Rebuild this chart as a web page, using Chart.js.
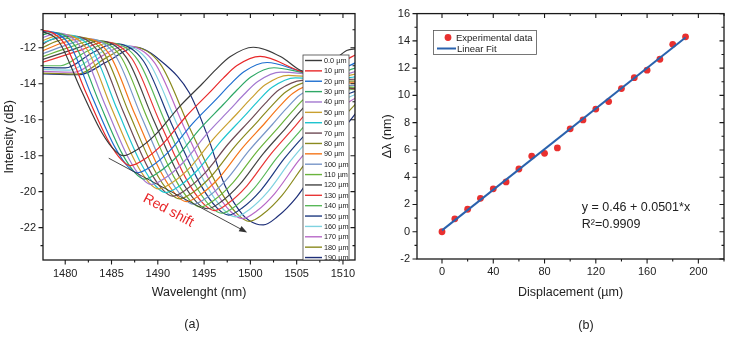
<!DOCTYPE html>
<html>
<head>
<meta charset="utf-8">
<script src="https://cdn.jsdelivr.net/npm/chart.js@4.4.1/dist/chart.umd.min.js"></script>
<style>
  body { margin: 0; background: #fff; }
  #wrap { position: relative; width: 733px; height: 340px; }
  canvas { position: absolute; top: 0; }
  #chartA { left: 0; }
  #chartB { left: 366px; }
</style>
</head>
<body>
<div id="wrap">
  <canvas id="chartA" width="366" height="340"></canvas>
  <canvas id="chartB" width="367" height="340"></canvas>
</div>
<script>
// ---- panel (a): transmission spectra, [wavelength nm, intensity dB] ----
const displacementLabels = ['0.0 µm', '10 µm', '20 µm', '30 µm', '40 µm', '50 µm', '60 µm', '70 µm', '80 µm', '90 µm',
    '100 µm', '110 µm', '120 µm', '130 µm', '140 µm', '150 µm', '160 µm', '170 µm', '180 µm', '190 µm'];

const spec0 = [[1477.0,-10.98],[1479.33,-11.68],[1481.65,-14.28],[1483.98,-16.74],[1485.37,-17.72],[1486.3,-18.0],[1487.8,-17.65],[1489.8,-16.8],[1492.3,-15.3],[1494.8,-14.0],[1496.3,-13.2],[1497.8,-12.5],[1500.3,-11.97],[1503.3,-12.5],[1505.4,-13.25],[1506.8,-13.4],[1508.8,-12.8],[1510.4,-12.15],[1511.5,-12.05]];
const spec10 = [[1476.8,-11.12],[1477.55,-11.03],[1479.93,-11.78],[1482.3,-14.56],[1484.68,-17.2],[1486.1,-18.25],[1487.05,-18.55],[1488.55,-18.2],[1490.55,-17.34],[1493.05,-15.82],[1495.55,-14.51],[1497.05,-13.7],[1498.55,-12.99],[1501.05,-12.48],[1505.4,-13.3],[1507.2,-13.5],[1509.5,-12.9],[1511.5,-12.35]];
const spec20 = [[1477.0,-11.18],[1478.1,-11.09],[1480.53,-11.88],[1482.95,-14.78],[1485.38,-17.54],[1486.83,-18.64],[1487.8,-18.95],[1489.3,-18.59],[1491.3,-17.72],[1493.8,-16.19],[1496.3,-14.87],[1497.8,-14.05],[1499.3,-13.33],[1501.8,-12.82],[1505.4,-13.3],[1507.5,-13.55],[1509.8,-13.2],[1511.5,-12.8]];
const spec30 = [[1477.0,-11.38],[1478.7,-11.14],[1481.16,-11.96],[1483.63,-14.98],[1486.09,-17.83],[1487.57,-18.97],[1488.55,-19.3],[1490.05,-18.94],[1492.05,-18.06],[1494.55,-16.51],[1497.05,-15.17],[1498.55,-14.35],[1500.05,-13.62],[1502.55,-13.11],[1505.4,-13.35],[1508.0,-13.6],[1511.5,-13.1]];
const spec40 = [[1477.0,-11.55],[1479.25,-11.19],[1481.76,-12.03],[1484.28,-15.14],[1486.79,-18.09],[1488.3,-19.26],[1489.3,-19.6],[1490.8,-19.24],[1492.8,-18.35],[1495.3,-16.79],[1497.8,-15.43],[1499.3,-14.6],[1500.8,-13.87],[1503.3,-13.35],[1505.4,-13.42],[1508.5,-13.65],[1511.5,-13.3]];
const spec50 = [[1477.0,-11.72],[1479.8,-11.25],[1482.38,-12.11],[1484.95,-15.29],[1487.53,-18.3],[1489.07,-19.51],[1490.1,-19.85],[1491.6,-19.48],[1493.6,-18.59],[1496.1,-17.01],[1498.6,-15.64],[1500.1,-14.8],[1501.6,-14.06],[1504.1,-13.53],[1508.5,-13.7],[1511.5,-13.45]];
const spec60 = [[1477.0,-11.85],[1478.85,-11.48],[1480.35,-11.3],[1482.98,-12.18],[1485.6,-15.41],[1488.23,-18.48],[1489.8,-19.7],[1490.85,-20.05],[1492.35,-19.68],[1494.35,-18.77],[1496.85,-17.18],[1499.35,-15.8],[1500.85,-14.95],[1502.35,-14.2],[1504.85,-13.67],[1509.0,-13.75],[1511.5,-13.6]];
const spec70 = [[1477.0,-12.0],[1478.4,-11.57],[1480.9,-11.35],[1483.58,-12.24],[1486.25,-15.53],[1488.93,-18.65],[1490.53,-19.89],[1491.6,-20.25],[1493.1,-19.87],[1495.1,-18.96],[1497.6,-17.35],[1500.1,-15.95],[1501.6,-15.09],[1503.1,-14.34],[1505.6,-13.81],[1511.5,-13.75]];
const spec80 = [[1477.0,-12.15],[1478.95,-11.66],[1481.45,-11.4],[1484.18,-12.3],[1486.9,-15.63],[1489.63,-18.78],[1491.26,-20.04],[1492.35,-20.4],[1493.85,-20.02],[1495.85,-19.1],[1498.35,-17.47],[1500.85,-16.06],[1502.35,-15.2],[1503.85,-14.44],[1506.35,-13.9],[1511.5,-13.85]];
const spec90 = [[1477.0,-12.3],[1479.5,-11.76],[1482.0,-11.46],[1484.78,-12.37],[1487.55,-15.73],[1490.33,-18.91],[1491.99,-20.19],[1493.1,-20.55],[1494.6,-20.17],[1496.6,-19.24],[1499.1,-17.59],[1501.6,-16.17],[1503.1,-15.29],[1504.6,-14.53],[1507.1,-13.98],[1511.5,-13.95]];
const spec100 = [[1477.0,-12.45],[1480.1,-11.85],[1482.6,-11.51],[1485.41,-12.43],[1488.23,-15.83],[1491.04,-19.05],[1492.73,-20.33],[1493.85,-20.7],[1495.35,-20.31],[1497.35,-19.37],[1499.85,-17.72],[1502.35,-16.28],[1503.85,-15.4],[1505.35,-14.62],[1507.85,-14.07],[1511.5,-14.1]];
const spec110 = [[1477.0,-12.6],[1480.65,-11.94],[1483.15,-11.57],[1486.01,-12.5],[1488.88,-15.93],[1491.74,-19.18],[1493.46,-20.48],[1494.6,-20.85],[1496.1,-20.46],[1498.1,-19.51],[1500.6,-17.84],[1503.1,-16.39],[1504.6,-15.49],[1506.1,-14.71],[1508.6,-14.15],[1511.5,-14.2]];
const spec120 = [[1477.0,-12.75],[1481.2,-12.03],[1483.7,-11.62],[1486.61,-12.55],[1489.53,-16.0],[1492.44,-19.27],[1494.19,-20.58],[1495.35,-20.95],[1496.85,-20.56],[1498.85,-19.6],[1501.35,-17.91],[1503.85,-16.45],[1505.35,-15.55],[1506.85,-14.76],[1509.35,-14.19],[1511.5,-14.25]];
const spec130 = [[1477.0,-12.9],[1481.75,-12.12],[1484.25,-11.67],[1487.21,-12.61],[1490.18,-16.08],[1493.14,-19.36],[1494.92,-20.67],[1496.1,-21.05],[1497.6,-20.65],[1499.6,-19.69],[1502.1,-17.98],[1504.6,-16.5],[1506.1,-15.59],[1507.6,-14.8],[1510.1,-14.23],[1511.5,-14.3]];
const spec140 = [[1477.0,-13.0],[1479.5,-13.0],[1482.3,-12.21],[1484.8,-11.72],[1487.83,-12.67],[1490.85,-16.18],[1493.88,-19.49],[1495.69,-20.82],[1496.9,-21.2],[1498.4,-20.8],[1500.4,-19.82],[1502.9,-18.1],[1505.4,-16.61],[1506.9,-15.69],[1508.4,-14.89],[1510.9,-14.32],[1511.6,-14.35]];
const spec150 = [[1477.0,-13.1],[1480.0,-13.12],[1482.85,-12.3],[1485.35,-11.77],[1488.43,-12.72],[1491.5,-16.25],[1494.58,-19.58],[1496.42,-20.92],[1497.65,-21.3],[1499.15,-20.89],[1501.15,-19.91],[1503.65,-18.17],[1506.15,-16.67],[1507.65,-15.74],[1509.15,-14.93],[1511.65,-14.35]];
const spec160 = [[1477.0,-13.2],[1480.5,-13.24],[1483.4,-12.4],[1485.9,-11.83],[1489.03,-12.79],[1492.15,-16.33],[1495.28,-19.68],[1497.15,-21.02],[1498.4,-21.4],[1499.9,-20.99],[1501.9,-20.0],[1504.4,-18.25],[1506.9,-16.73],[1508.4,-15.79],[1509.9,-14.98],[1512.4,-14.39]];
const spec170 = [[1477.0,-13.3],[1481.0,-13.36],[1484.0,-12.45],[1486.5,-11.88],[1489.66,-12.84],[1492.83,-16.4],[1495.99,-19.77],[1497.89,-21.12],[1499.15,-21.5],[1500.65,-21.09],[1502.65,-20.09],[1505.15,-18.32],[1507.65,-16.78],[1509.15,-15.84],[1510.65,-15.02],[1513.15,-14.43]];
const spec180 = [[1477.0,-13.4],[1481.3,-13.46],[1484.55,-12.52],[1487.05,-11.93],[1490.26,-12.9],[1493.48,-16.5],[1496.69,-19.9],[1498.62,-21.26],[1499.9,-21.65],[1501.4,-21.23],[1503.4,-20.22],[1505.9,-18.44],[1508.4,-16.89],[1509.9,-15.94],[1511.4,-15.11]];
const spec190 = [[1477.0,-13.45],[1481.5,-13.5],[1484.6,-12.75],[1487.6,-11.98],[1490.86,-12.96],[1493.4,-14.5],[1495.3,-16.8],[1497.2,-19.6],[1499.2,-21.3],[1500.65,-21.8],[1501.4,-21.85],[1502.9,-21.4],[1505.0,-20.3],[1507.0,-18.8],[1509.2,-17.1],[1511.6,-15.5]];

const spectra = [spec0, spec10, spec20, spec30, spec40, spec50, spec60, spec70, spec80, spec90,
    spec100, spec110, spec120, spec130, spec140, spec150, spec160, spec170, spec180, spec190];

const lineColors = ['#3b3b3b', '#e8282a', '#1e6fd0', '#2ea866', '#a378d0', '#c9a030', '#1fc4cf', '#6e4a55', '#8a8a1e', '#f5761a',
    '#7896c8', '#6ab43c', '#454545', '#e83535', '#58b858', '#1e3a80', '#7fd2e0', '#b869c8', '#8a8a1e', '#1e2f78'];

const wavelengthTicks = [1480, 1485, 1490, 1495, 1500, 1505, 1510];
const intensityTicks = [-22, -20, -18, -16, -14, -12];

// arrow of the red shift, in data units
const shiftArrowFrom = [1484.7, -18.14];
const shiftArrowTo = [1499.65, -22.27];
const shiftTextAt = [1491.15, -21.05];

// ---- panel (b): dip shift vs displacement ----
const displacement = [0, 10, 20, 30, 40, 50, 60, 70, 80, 90, 100, 110, 120, 130, 140, 150, 160, 170, 180, 190];
const wavelengthShift = [0, 0.95, 1.65, 2.45, 3.15, 3.65, 4.6, 5.55, 5.75, 6.15, 7.55, 8.2, 9.0, 9.55, 10.5, 11.3, 11.85, 12.65, 13.75, 14.3];
const fitX = [0, 190];
const fitY = [0.1, 14.25];

const displacementTicks = [0, 40, 80, 120, 160, 200];
const shiftTicks = [-2, 0, 2, 4, 6, 8, 10, 12, 14, 16];

const FONT = "'Liberation Sans', Arial, sans-serif";
const INK = '#1a1a1a';

function isMajor(v, major) {
    const r = v / major;
    return Math.abs(r - Math.round(r)) < 1e-6;
}

// box round the plot with ticks on all four sides (out on bottom/left, in on top/right)
function drawFrame(chart, o) {
    const {ctx, chartArea: a} = chart;
    const xs = chart.scales.x, ys = chart.scales.y;
    ctx.save();
    ctx.strokeStyle = INK;
    ctx.lineWidth = 1.1;
    ctx.beginPath();
    const x0 = Math.ceil(xs.min / o.xMinor - 1e-9);
    for (let i = x0; i * o.xMinor <= xs.max + 1e-9; i++) {
        const v = i * o.xMinor;
        const px = xs.getPixelForValue(v);
        const len = isMajor(v, o.xMajor) ? 4.5 : 2.5;
        ctx.moveTo(px, a.bottom); ctx.lineTo(px, a.bottom + len);
        ctx.moveTo(px, a.top); ctx.lineTo(px, a.top + len);
    }
    const y0 = Math.ceil(ys.min / o.yMinor - 1e-9);
    for (let i = y0; i * o.yMinor <= ys.max + 1e-9; i++) {
        const v = i * o.yMinor;
        const py = ys.getPixelForValue(v);
        const len = isMajor(v, o.yMajor) ? 4.5 : 2.5;
        ctx.moveTo(a.left, py); ctx.lineTo(a.left - len, py);
        ctx.moveTo(a.right, py); ctx.lineTo(a.right - len, py);
    }
    ctx.stroke();
    ctx.lineWidth = 1.3;
    ctx.strokeRect(a.left, a.top, a.right - a.left, a.bottom - a.top);
    ctx.restore();
}

function drawText(ctx, text, x, y, font, color, angle, align) {
    ctx.save();
    ctx.translate(x, y);
    if (angle) ctx.rotate(angle);
    ctx.font = font;
    ctx.fillStyle = color;
    ctx.textAlign = align || 'center';
    ctx.textBaseline = 'middle';
    ctx.fillText(text, 0, 0);
    ctx.restore();
}

const panelA = {
    id: 'panelA',
    afterDatasetsDraw(chart) {
        const {ctx, chartArea: a} = chart;
        const xs = chart.scales.x, ys = chart.scales.y;
        drawFrame(chart, {xMajor: 5, xMinor: 2.5, yMajor: 2, yMinor: 1});

        // red shift arrow
        const x1 = xs.getPixelForValue(shiftArrowFrom[0]), y1 = ys.getPixelForValue(shiftArrowFrom[1]);
        const x2 = xs.getPixelForValue(shiftArrowTo[0]), y2 = ys.getPixelForValue(shiftArrowTo[1]);
        const ang = Math.atan2(y2 - y1, x2 - x1);
        ctx.save();
        ctx.strokeStyle = '#333';
        ctx.fillStyle = '#333';
        ctx.lineWidth = 0.9;
        ctx.beginPath();
        ctx.moveTo(x1, y1);
        ctx.lineTo(x2 - 6 * Math.cos(ang), y2 - 6 * Math.sin(ang));
        ctx.stroke();
        ctx.beginPath();
        ctx.moveTo(x2, y2);
        ctx.lineTo(x2 - 8 * Math.cos(ang) + 3 * Math.sin(ang), y2 - 8 * Math.sin(ang) - 3 * Math.cos(ang));
        ctx.lineTo(x2 - 8 * Math.cos(ang) - 3 * Math.sin(ang), y2 - 8 * Math.sin(ang) + 3 * Math.cos(ang));
        ctx.closePath();
        ctx.fill();
        ctx.restore();
        drawText(ctx, 'Red shift', xs.getPixelForValue(shiftTextAt[0]), ys.getPixelForValue(shiftTextAt[1]),
            '14px ' + FONT, '#e8282a', ang);

        // legend box
        const lx = 303, ly = 55, lw = 46, lh = a.bottom - ly;
        ctx.save();
        ctx.fillStyle = '#fff';
        ctx.fillRect(lx, ly, lw, lh);
        ctx.strokeStyle = '#444';
        ctx.lineWidth = 0.8;
        ctx.strokeRect(lx, ly, lw, lh);
        chart.data.datasets.forEach((ds, i) => {
            const ry = 60.5 + i * 10.37;
            ctx.strokeStyle = ds.borderColor;
            ctx.lineWidth = 1.4;
            ctx.beginPath();
            ctx.moveTo(lx + 2, ry);
            ctx.lineTo(lx + 19, ry);
            ctx.stroke();
            drawText(ctx, ds.label, lx + 21, ry + 0.5, '7.3px ' + FONT, '#222', 0, 'left');
        });
        ctx.restore();

        // axis titles and panel tag
        const cx = (a.left + a.right) / 2;
        drawText(ctx, 'Intensity (dB)', 10, (a.top + a.bottom) / 2, '12.5px ' + FONT, '#222', -Math.PI / 2);
        drawText(ctx, 'Wavelenght (nm)', cx, 293, '12.5px ' + FONT, '#222');
        drawText(ctx, '(a)', 192, 325, '12.5px ' + FONT, '#222');
    }
};

const panelB = {
    id: 'panelB',
    afterDatasetsDraw(chart) {
        const {ctx, chartArea: a} = chart;
        const xs = chart.scales.x, ys = chart.scales.y;
        drawFrame(chart, {xMajor: 40, xMinor: 20, yMajor: 2, yMinor: 1});

        // legend
        ctx.save();
        ctx.strokeStyle = '#555';
        ctx.lineWidth = 0.8;
        ctx.strokeRect(67.5, 30.5, 103, 24);
        ctx.fillStyle = '#e8302f';
        ctx.beginPath();
        ctx.arc(82, 37.5, 3.4, 0, Math.PI * 2);
        ctx.fill();
        ctx.strokeStyle = '#2a62ad';
        ctx.lineWidth = 2;
        ctx.beginPath();
        ctx.moveTo(71, 48.5);
        ctx.lineTo(90, 48.5);
        ctx.stroke();
        ctx.restore();
        drawText(ctx, 'Experimental data', 90, 38, '9.5px ' + FONT, '#222', 0, 'left');
        drawText(ctx, 'Linear Fit', 91, 49, '9.5px ' + FONT, '#222', 0, 'left');

        // fit annotation
        const tx = xs.getPixelForValue(109);
        drawText(ctx, 'y = 0.46 + 0.0501*x', tx, ys.getPixelForValue(1.8), '12.5px ' + FONT, '#222', 0, 'left');
        drawText(ctx, 'R²=0.9909', tx, ys.getPixelForValue(0.55), '12.5px ' + FONT, '#222', 0, 'left');

        const cx = (a.left + a.right) / 2;
        drawText(ctx, 'Δλ (nm)', 22, (a.top + a.bottom) / 2, '12.5px ' + FONT, '#222', -Math.PI / 2);
        drawText(ctx, 'Displacement (µm)', cx, 293, '12.5px ' + FONT, '#222');
        drawText(ctx, '(b)', 220, 326, '12.5px ' + FONT, '#222');
    }
};

function axis(min, max, tickValues, pad, fitSize, horizontal) {
    return {
        type: 'linear',
        min: min,
        max: max,
        grid: {display: false, drawTicks: false},
        border: {display: false},
        afterBuildTicks: s => { s.ticks = tickValues.map(v => ({value: v})); },
        ticks: {
            autoSkip: false,
            maxRotation: 0,
            padding: pad,
            color: '#222',
            font: {family: FONT, size: 11},
            callback: v => String(v)
        },
        afterFit: s => { if (horizontal) s.height = fitSize; else s.width = fitSize; }
    };
}

new Chart(document.getElementById('chartA'), {
    type: 'line',
    data: {
        datasets: spectra.map((pts, i) => ({
            label: displacementLabels[i],
            data: pts.map(p => ({x: p[0], y: p[1]})),
            borderColor: lineColors[i],
            borderWidth: 1.2,
            pointRadius: 0,
            fill: false,
            cubicInterpolationMode: 'monotone'
        }))
    },
    options: {
        responsive: false,
        animation: false,
        devicePixelRatio: 1,
        layout: {padding: {top: 10, right: 11, bottom: 0, left: 0}},
        scales: {
            x: axis(1477.6, 1511.3, wavelengthTicks, 7, 80, true),
            y: axis(-23.8, -10.1, intensityTicks, 7, 43, false)
        },
        plugins: {legend: {display: false}, tooltip: {enabled: false}}
    },
    plugins: [panelA]
});

new Chart(document.getElementById('chartB'), {
    type: 'scatter',
    data: {
        datasets: [{
            label: 'Linear Fit',
            data: fitX.map((x, i) => ({x: x, y: fitY[i]})),
            showLine: true,
            borderColor: '#2a62ad',
            borderWidth: 2,
            pointRadius: 0,
            order: 0
        }, {
            label: 'Experimental data',
            data: displacement.map((x, i) => ({x: x, y: wavelengthShift[i]})),
            backgroundColor: '#e8302f',
            borderWidth: 0,
            pointRadius: 3.4,
            order: 1
        }]
    },
    options: {
        responsive: false,
        animation: false,
        devicePixelRatio: 1,
        layout: {padding: {top: 12, right: 9, bottom: 0, left: 0}},
        scales: {
            x: axis(-19.5, 220, displacementTicks, 6, 81, true),
            y: axis(-2, 16, shiftTicks, 7, 51, false)
        },
        plugins: {legend: {display: false}, tooltip: {enabled: false}}
    },
    plugins: [panelB]
});
</script>
</body>
</html>
